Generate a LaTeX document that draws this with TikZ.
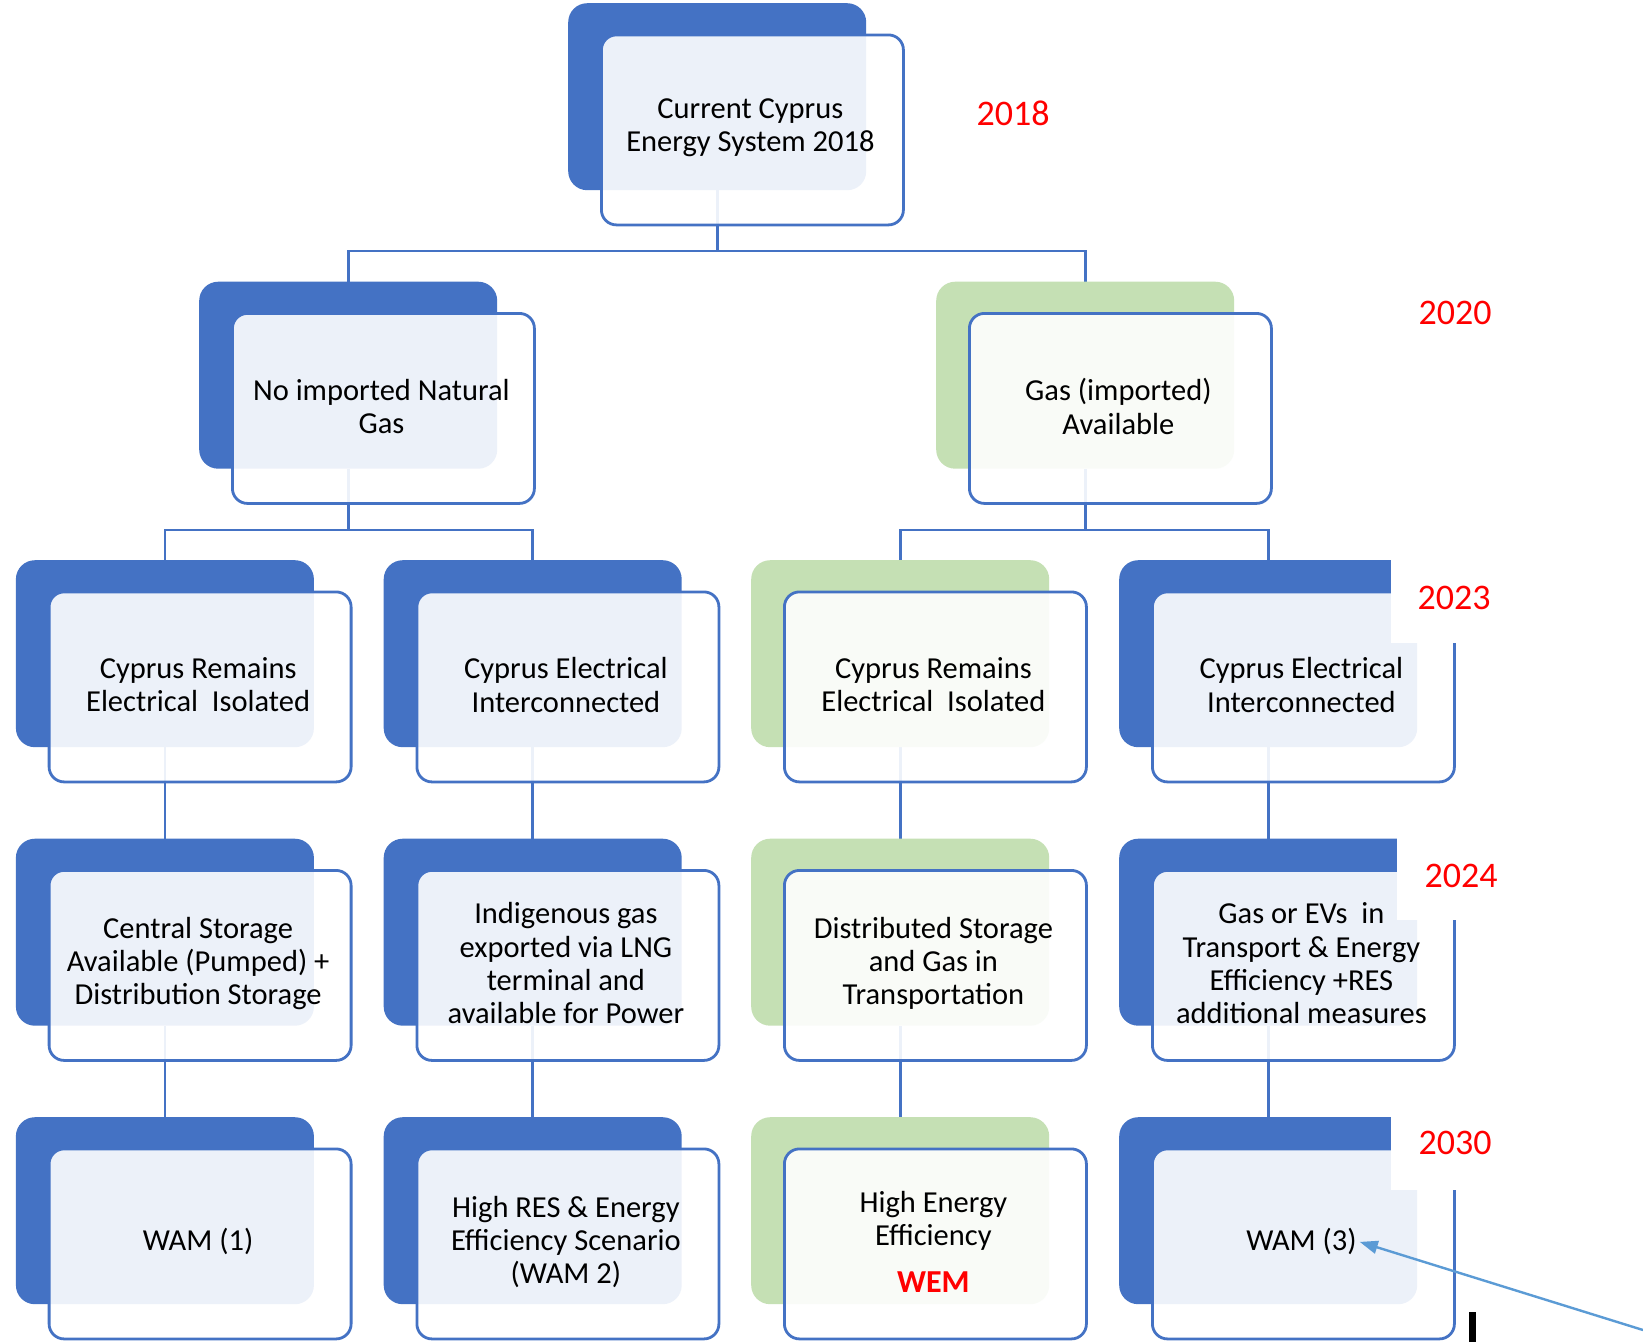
\documentclass[tikz,border=0pt]{standalone}
\usepackage{fontspec}
\setmainfont{Carlito}
\usetikzlibrary{arrows.meta,backgrounds}
\definecolor{accblue}{HTML}{4472C4}
\definecolor{accgreen}{HTML}{C5E0B4}
\definecolor{arrblue}{HTML}{5B9BD5}
\definecolor{yearred}{HTML}{FF0000}
\tikzset{
 backbox/.style={rectangle, rounded corners=19pt, minimum width=298pt, minimum height=187pt, anchor=north west, inner sep=0pt, draw=none},
 frontbox/.style={rectangle, rounded corners=15pt, minimum width=302pt, minimum height=190pt, anchor=north west, inner sep=0pt, draw=accblue, line width=2.8pt, fill=white, fill opacity=0.9},
 boxtext/.style={align=center, font=\fontsize{30.5}{33.3}\selectfont, inner sep=3pt, text=black},
 conn/.style={draw=accblue, line width=2.6pt},
 yeartext/.style={font=\fontsize{36}{40}\selectfont, text=yearred, inner sep=0pt},
 patch/.style={fill=white, draw=none},
 pointer/.style={draw=arrblue, line width=2.4pt, -{Triangle[length=18pt,width=13pt]}},
}
\newcommand{\treebox}[5]{%
 \node[backbox, fill=#4] (#1b) at (#2,#3) {};
 \node[frontbox] (#1f) at ({#2+32},{#3+30.5}) {};
 \node[boxtext] (#1t) at ([xshift=-2pt,yshift=2pt]#1f.center) {#5};
}
\begin{document}
\begin{tikzpicture}[x=1pt,y=-1pt]
\useasboundingbox (0,0) rectangle (1643,1342);
% row 1
\treebox{r1}{568}{3}{accblue}{Current Cyprus\\Energy System 2018}
% row 2
\treebox{nng}{199}{281.5}{accblue}{No imported Natural\\Gas}
\treebox{gas}{936}{281.5}{accgreen}{Gas (imported)\\Available}
% row 3
\treebox{a3}{15.7}{560}{accblue}{Cyprus Remains\\Electrical~~Isolated}
\treebox{b3}{383.5}{560}{accblue}{Cyprus Electrical\\Interconnected}
\treebox{c3}{751}{560}{accgreen}{Cyprus Remains\\Electrical~~Isolated}
\treebox{d3}{1119}{560}{accblue}{Cyprus Electrical\\Interconnected}
% row 4
\treebox{a4}{15.7}{838.5}{accblue}{Central Storage\\Available (Pumped) +\\Distribution Storage}
\treebox{b4}{383.5}{838.5}{accblue}{Indigenous gas\\exported via LNG\\terminal and\\available for Power}
\treebox{c4}{751}{838.5}{accgreen}{Distributed Storage\\and Gas in\\Transportation}
\treebox{d4}{1119}{838.5}{accblue}{Gas or EVs~~in\\Transport \& Energy\\Efficiency +RES\\additional measures}
% row 5
\treebox{a5}{15.7}{1117}{accblue}{WAM (1)}
\treebox{b5}{383.5}{1117}{accblue}{High RES \& Energy\\Efficiency Scenario\\(WAM 2)}
\treebox{c5}{751}{1117}{accgreen}{High Energy\\Efficiency\\[14pt]{\fontsize{32}{36}\selectfont\bfseries\textcolor{yearred}{WEM}}}
\treebox{d5}{1119}{1117}{accblue}{WAM (3)}
% connectors
\coordinate (bus1) at (0,251);
\coordinate (bus2) at (0,530);
\begin{scope}[on background layer]
\fill[white] (0,0) rectangle (1643,1342);
\draw[conn] (r1b.south) -- (r1b.south |- bus1) -| (nngb.north);
\draw[conn] (r1b.south |- bus1) -| (gasb.north);
\draw[conn] (nngb.south) -- (nngb.south |- bus2) -| (a3b.north);
\draw[conn] (nngb.south |- bus2) -| (b3b.north);
\draw[conn] (gasb.south) -- (gasb.south |- bus2) -| (c3b.north);
\draw[conn] (gasb.south |- bus2) -| (d3b.north);
\draw[conn] (a3b.south) -- (a4b.north);
\draw[conn] (b3b.south) -- (b4b.north);
\draw[conn] (c3b.south) -- (c4b.north);
\draw[conn] (d3b.south) -- (d4b.north);
\draw[conn] (a4b.south) -- (a5b.north);
\draw[conn] (b4b.south) -- (b5b.north);
\draw[conn] (c4b.south) -- (c5b.north);
\draw[conn] (d4b.south) -- (d5b.north);
\end{scope}
% year labels
\node[yeartext] (y2018) at (1013,113) {2018};
\node[yeartext] (y2020) at (1455,313) {2020};
\fill[patch] (1391,558) rectangle (1500,643);
\node[yeartext] (y2023) at (1454,598) {2023};
\fill[patch] (1397,836) rectangle (1500,920);
\node[yeartext] (y2024) at (1461,876) {2024};
\fill[patch] (1391,1114) rectangle (1500,1190);
\node[yeartext] (y2030) at (1455,1143) {2030};
% pointer arrow
\coordinate (arrowstart) at (1643,1330);
\draw[pointer] (arrowstart) -- (d5t.east);
% cursor bar
\draw[line width=7pt, black] (1472.5,1312) -- (1472.5,1342);
\end{tikzpicture}
\end{document}
